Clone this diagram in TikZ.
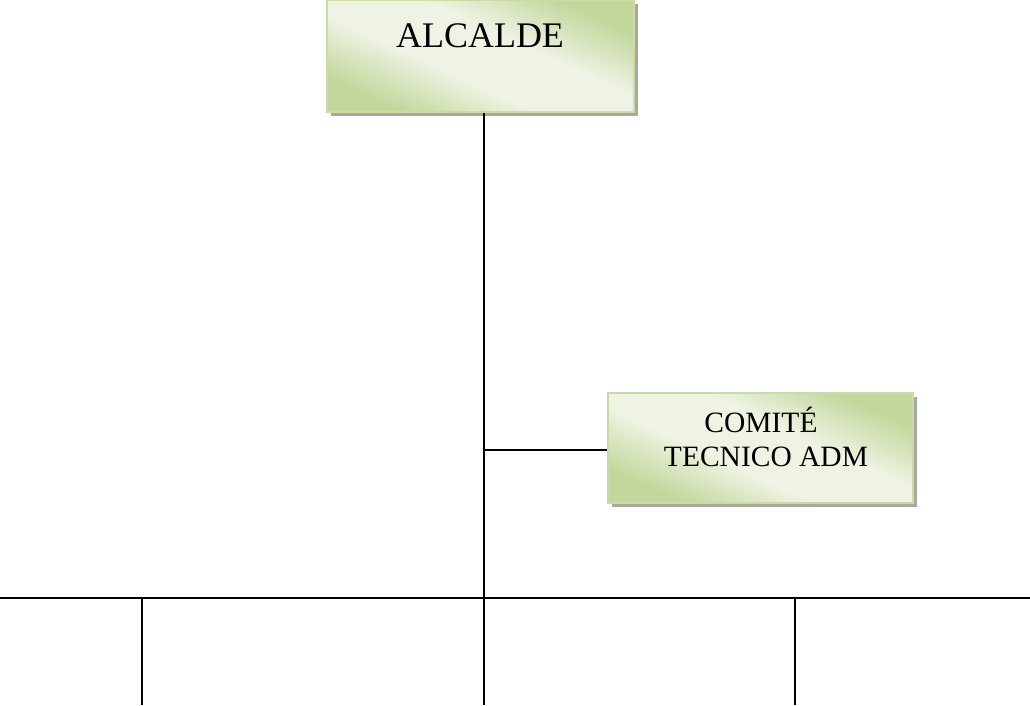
\documentclass[tikz,border=0pt]{standalone}
\usepackage{fontspec}
\setmainfont{Liberation Serif}
\definecolor{gdark}{HTML}{C3D79C}
\definecolor{glight}{HTML}{EEF3E3}
\definecolor{gborder}{HTML}{C9DBA6}
\definecolor{shadowc}{HTML}{A8A8A0}
\pgfdeclarehorizontalshading{gshade}{100bp}{color(0bp)=(gdark); color(26bp)=(gdark); color(42bp)=(glight); color(58bp)=(glight); color(74bp)=(gdark); color(100bp)=(gdark)}
\tikzset{
  x=1pt,y=-1pt,
  boxnode/.style={draw=gborder, line width=1.2pt, shading=gshade, shading angle=65, inner sep=0pt},
  conn/.style={line width=1.4pt, black},
  lbl/.style={anchor=base, inner sep=0pt, text=black}
}
\begin{document}
\begin{tikzpicture}
\useasboundingbox (0,0) rectangle (1030,705);
% shadows
\fill[shadowc] (331,4) rectangle (638,116);
\fill[shadowc] (612,397) rectangle (917,507);
% boxes
\node[boxnode, minimum width=307pt, minimum height=112pt] (alc) at (480.5,56) {};
\node[boxnode, minimum width=305pt, minimum height=110pt] (com) at (760.5,448) {};
\node[lbl, font=\fontsize{36}{40}\selectfont] (talc) at (480,47) {ALCALDE};
\node[lbl, font=\fontsize{29.5}{34}\selectfont] (tcom1) at (761,432) {COMITÉ};
\node[lbl, font=\fontsize{29.5}{34}\selectfont] (tcom2) at (766,466) {TECNICO ADM};
% coordinates
\coordinate (bot) at (484,705);
\coordinate (jn) at (484,450);
\coordinate (hl) at (0,598);
\coordinate (hr) at (1030,598);
\coordinate (l1t) at (142,598);
\coordinate (l1b) at (142,705);
\coordinate (l2t) at (795,598);
\coordinate (l2b) at (795,705);
% connectors
\draw[conn] (alc.south -| bot) -- (bot);
\draw[conn] (jn) -- (jn -| com.west);
\draw[conn] (hl) -- (hr);
\draw[conn] (l1t) -- (l1b);
\draw[conn] (l2t) -- (l2b);
\end{tikzpicture}
\end{document}
